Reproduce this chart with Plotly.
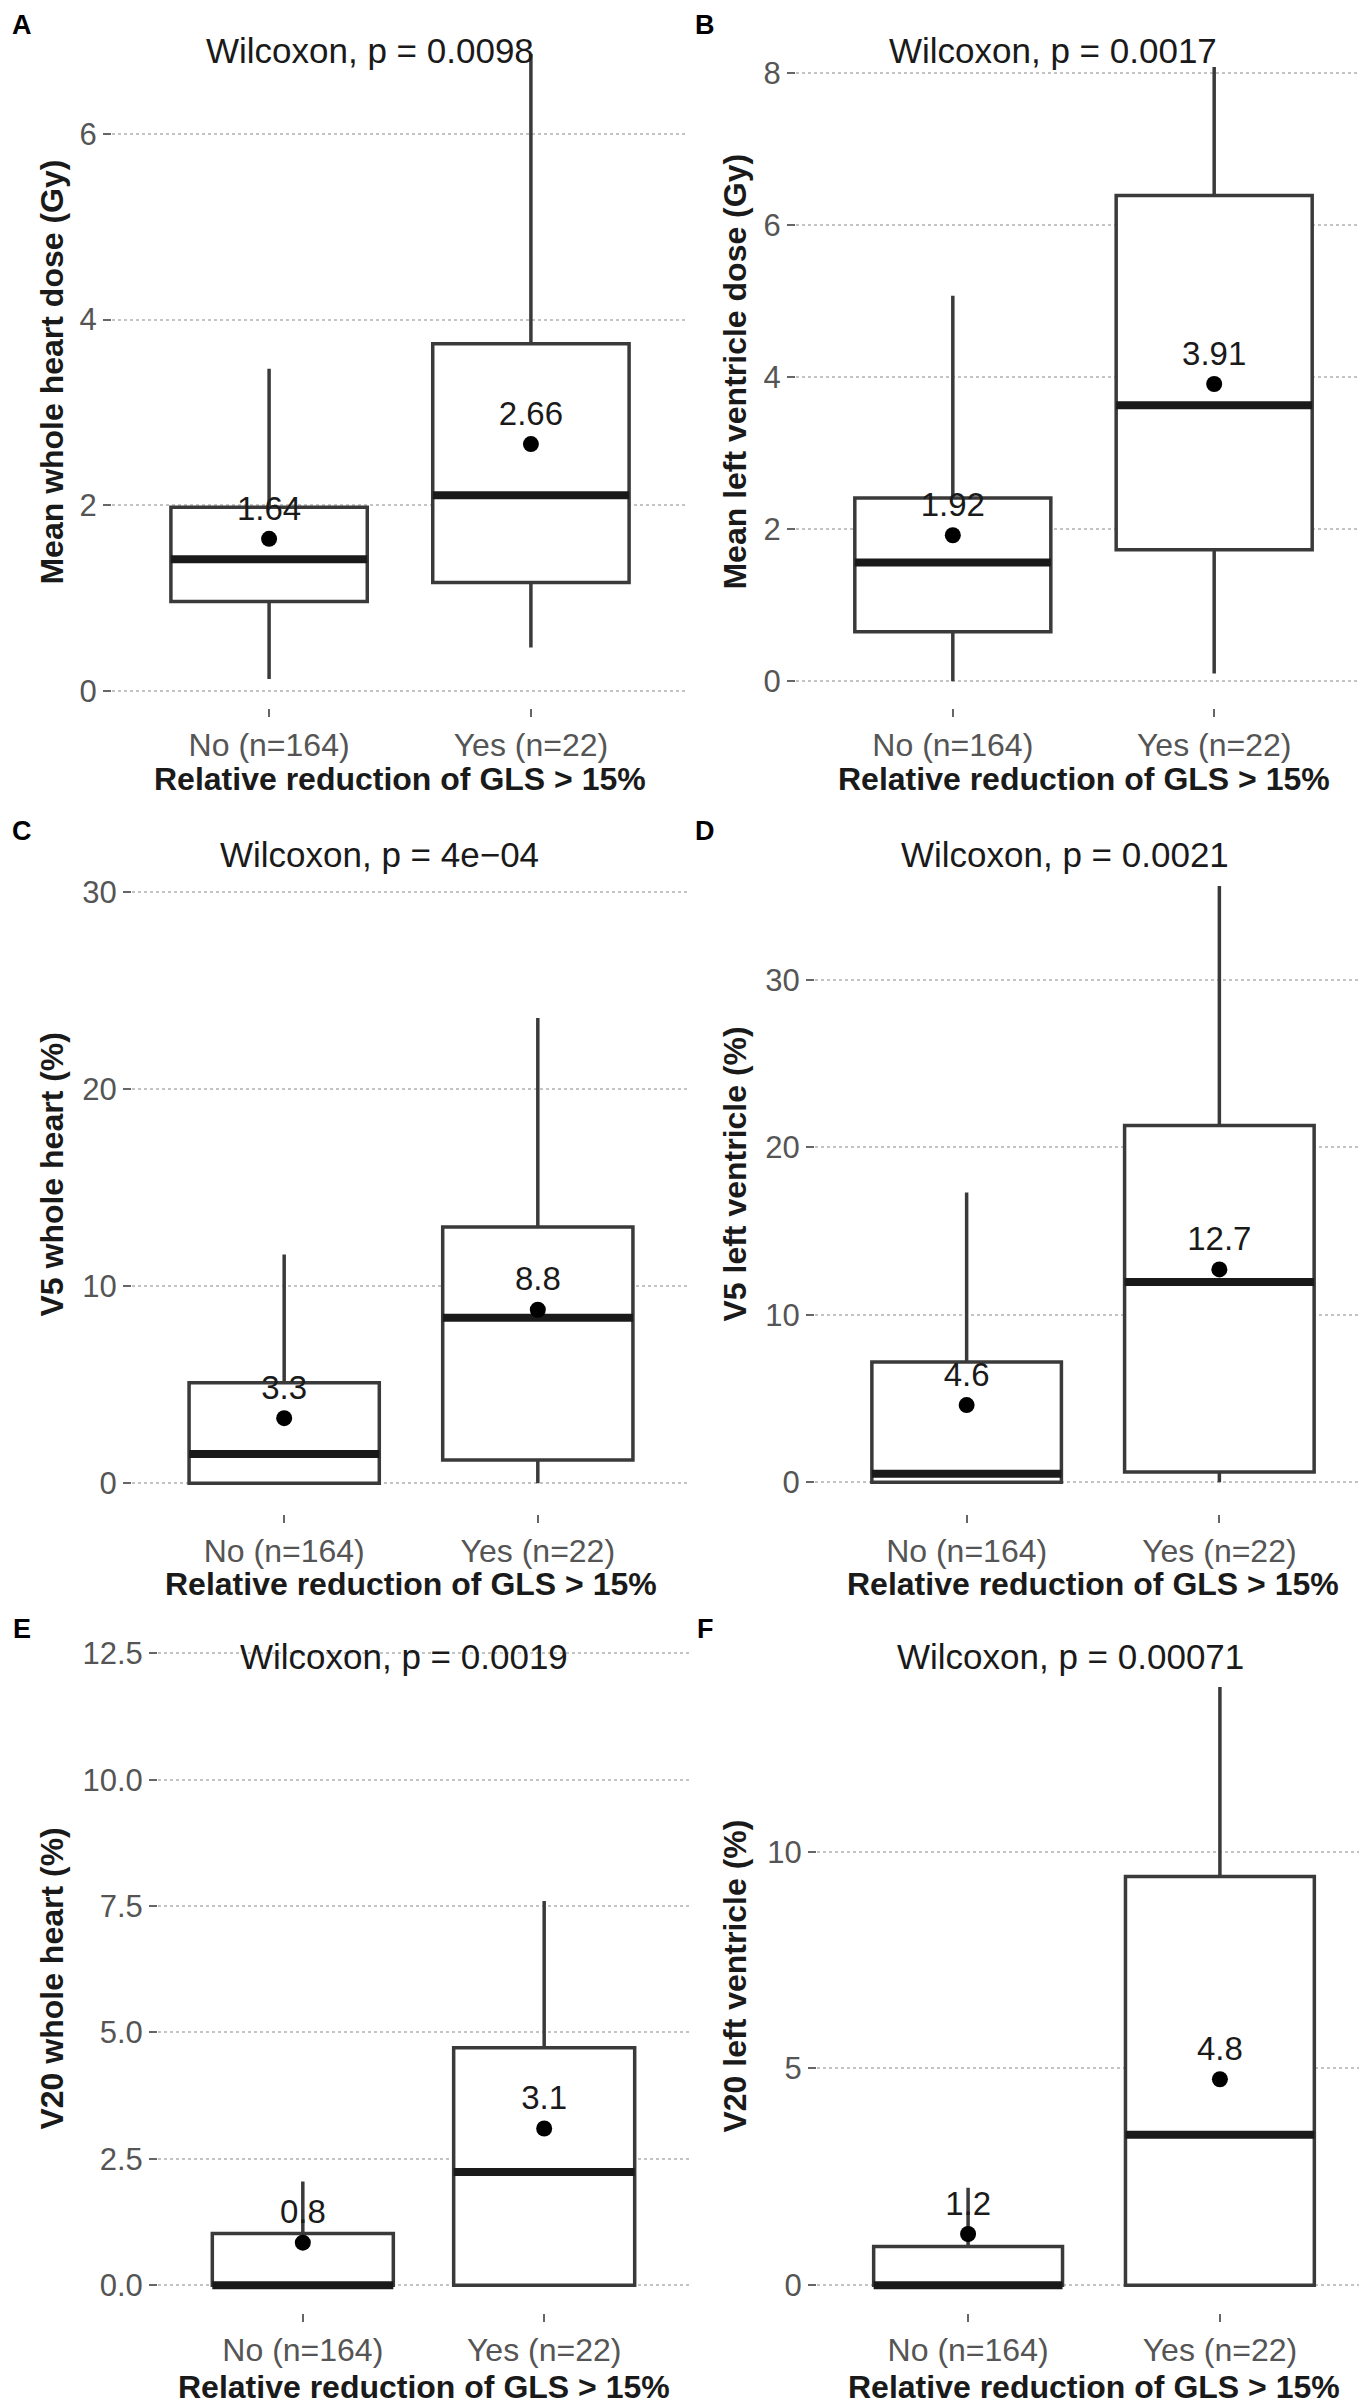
import plotly.graph_objects as go

W, H = 1367, 2404
FONT = "Liberation Sans, Arial, sans-serif"

# Groups and panel texts
groups = ["No (n=164)", "Yes (n=22)"]
panel_letters = ["A", "B", "C", "D", "E", "F"]
y_titles = [
    "Mean whole heart dose (Gy)",
    "Mean left ventricle dose (Gy)",
    "V5 whole heart (%)",
    "V5 left ventricle (%)",
    "V20 whole heart (%)",
    "V20 left ventricle (%)",
]
p_labels = [
    "Wilcoxon, p = 0.0098",
    "Wilcoxon, p = 0.0017",
    "Wilcoxon, p = 4e\u221204",
    "Wilcoxon, p = 0.0021",
    "Wilcoxon, p = 0.0019",
    "Wilcoxon, p = 0.00071",
]
x_title = "Relative reduction of GLS > 15%"
y_ticks = [
    [0, 2, 4, 6],
    [0, 2, 4, 6, 8],
    [0, 10, 20, 30],
    [0, 10, 20, 30],
    [0, 2.5, 5, 7.5, 10, 12.5],
    [0, 5, 10],
]

# Box statistics per panel (A..F), group "No"
lower_no = [0.13, 0.0, 0.0, 0.0, 0.0, 0.0]
q1_no = [0.965, 0.65, 0.0, 0.0, 0.0, 0.0]
median_no = [1.42, 1.56, 1.48, 0.5, 0.0, 0.0]
q3_no = [1.98, 2.41, 5.1, 7.18, 1.02, 0.89]
upper_no = [3.47, 5.07, 11.6, 17.3, 2.05, 2.25]
mean_no = [1.64, 1.92, 3.3, 4.6, 0.84, 1.18]
mean_text_no = ["1.64", "1.92", "3.3", "4.6", "0.8", "1.2"]

# group "Yes"
lower_yes = [0.47, 0.1, 0.0, 0.0, 0.0, 0.0]
q1_yes = [1.17, 1.73, 1.18, 0.6, 0.0, 0.0]
median_yes = [2.11, 3.63, 8.4, 11.95, 2.24, 3.47]
q3_yes = [3.74, 6.39, 13.0, 21.3, 4.7, 9.43]
upper_yes = [6.86, 8.08, 23.6, 35.6, 7.6, 13.8]
mean_yes = [2.66, 3.91, 8.8, 12.7, 3.1, 4.75]
mean_text_yes = ["2.66", "3.91", "8.8", "12.7", "3.1", "4.8"]

# panel geometry in pixels (x0/x1 plot edges, top/bottom, pixel of y=0, px per unit)
geo = [
    dict(x0=104, x1=680, top=20, bottom=699, y0=682, ppu=93.0),
    dict(x0=788, x1=1363, top=20, bottom=699, y0=672, ppu=76.1),
    dict(x0=124, x1=682, top=826, bottom=1506, y0=1475, ppu=19.73),
    dict(x0=807, x1=1363, top=826, bottom=1506, y0=1474, ppu=16.77),
    dict(x0=150, x1=681, top=1630, bottom=2306, y0=2278, ppu=50.6),
    dict(x0=809, x1=1363, top=1630, bottom=2306, y0=2278, ppu=43.4),
]
letter_pos = [(14, 15), (697, 15), (14, 822), (697, 822), (14, 1621), (697, 1621)]
p_pos = [(362, 41), (1045, 41), (371, 846), (1057, 846), (396, 1649), (1062, 1649)]
ytitle_pos = [(44, 363), (727, 362), (44, 1166), (727, 1165), (44, 1971), (727, 1968)]
xtitle_y = [770, 770, 1576, 1576, 2380, 2380]

BOX_COL = "#3a3a3a"
BOX_W = 0.75

fig = go.Figure()
layout = {}
annotations = []

for i in range(6):
    g = geo[i]
    xa = "x" if i == 0 else f"x{i + 1}"
    ya = "y" if i == 0 else f"y{i + 1}"
    stats = [
        (lower_no[i], q1_no[i], median_no[i], q3_no[i], upper_no[i], mean_no[i], mean_text_no[i]),
        (lower_yes[i], q1_yes[i], median_yes[i], q3_yes[i], upper_yes[i], mean_yes[i], mean_text_yes[i]),
    ]
    for k, (lo, q1, md, q3, up, mn, mt) in enumerate(stats):
        fig.add_trace(go.Box(
            x=[k], q1=[q1], median=[md], q3=[q3], lowerfence=[lo], upperfence=[up],
            width=BOX_W, whiskerwidth=0, fillcolor="white",
            line=dict(color=BOX_COL, width=3.5), boxpoints=False,
            hoverinfo="skip", showlegend=False, xaxis=xa, yaxis=ya,
        ))
        # thick median bar
        fig.add_trace(go.Scatter(
            x=[k - BOX_W / 2, k + BOX_W / 2], y=[md, md], mode="lines",
            line=dict(color="#1a1a1a", width=8), hoverinfo="skip",
            showlegend=False, xaxis=xa, yaxis=ya,
        ))
        # mean point with label
        fig.add_trace(go.Scatter(
            x=[k], y=[mn], mode="markers+text", text=[mt],
            textposition="top center",
            textfont=dict(family=FONT, size=33, color="#1a1a1a"),
            marker=dict(color="black", size=16),
            hoverinfo="skip", showlegend=False, xaxis=xa, yaxis=ya,
        ))

    y_lo = -(g["bottom"] - g["y0"]) / g["ppu"]
    y_hi = (g["y0"] - g["top"]) / g["ppu"]
    tick_text = [f"{v:.1f}" for v in y_ticks[i]] if i == 4 else [str(v) for v in y_ticks[i]]

    xkey = "xaxis" if i == 0 else f"xaxis{i + 1}"
    ykey = "yaxis" if i == 0 else f"yaxis{i + 1}"
    layout[xkey] = dict(
        domain=[g["x0"] / W, g["x1"] / W], anchor=ya, range=[-0.6, 1.6],
        tickvals=[0, 1], ticktext=groups, ticks="outside", ticklen=8,
        tickwidth=2, tickcolor="#666", showgrid=False, zeroline=False,
        showline=False, tickfont=dict(family=FONT, size=32, color="#555"),
        fixedrange=True,
    )
    layout[ykey] = dict(
        domain=[1 - g["bottom"] / H, 1 - g["top"] / H], anchor=xa,
        range=[y_lo, y_hi], tickvals=y_ticks[i], ticktext=tick_text,
        ticks="outside", ticklen=8, tickwidth=2, tickcolor="#666",
        showgrid=True, gridcolor="#c4c4c4", griddash="dot", gridwidth=2,
        zeroline=False, showline=False,
        tickfont=dict(family=FONT, size=31, color="#555"), fixedrange=True,
    )

    lx, ly = letter_pos[i]
    annotations.append(dict(
        text=f"<b>{panel_letters[i]}</b>", x=lx / W, y=1 - ly / H,
        xref="paper", yref="paper", showarrow=False, xanchor="center",
        yanchor="middle", font=dict(family=FONT, size=27, color="black"),
    ))
    px_, py_ = p_pos[i]
    annotations.append(dict(
        text=p_labels[i], x=px_ / W, y=1 - py_ / H, xref="paper", yref="paper",
        showarrow=False, xanchor="center", yanchor="middle",
        font=dict(family=FONT, size=35, color="#1a1a1a"),
    ))
    tx, ty = ytitle_pos[i]
    annotations.append(dict(
        text=f"<b>{y_titles[i]}</b>", x=tx / W, y=1 - ty / H, xref="paper",
        yref="paper", showarrow=False, xanchor="center", yanchor="middle",
        textangle=-90, font=dict(family=FONT, size=32, color="#1a1a1a"),
    ))
    annotations.append(dict(
        text=f"<b>{x_title}</b>", x=(g["x0"] + g["x1"]) / 2 / W,
        y=1 - xtitle_y[i] / H, xref="paper", yref="paper", showarrow=False,
        xanchor="center", yanchor="middle",
        font=dict(family=FONT, size=32, color="#1a1a1a"),
    ))

fig.update_layout(
    width=W, height=H, margin=dict(l=0, r=0, t=0, b=0),
    paper_bgcolor="white", plot_bgcolor="white",
    font=dict(family=FONT), annotations=annotations, **layout,
)

fig.write_html("out.html")
